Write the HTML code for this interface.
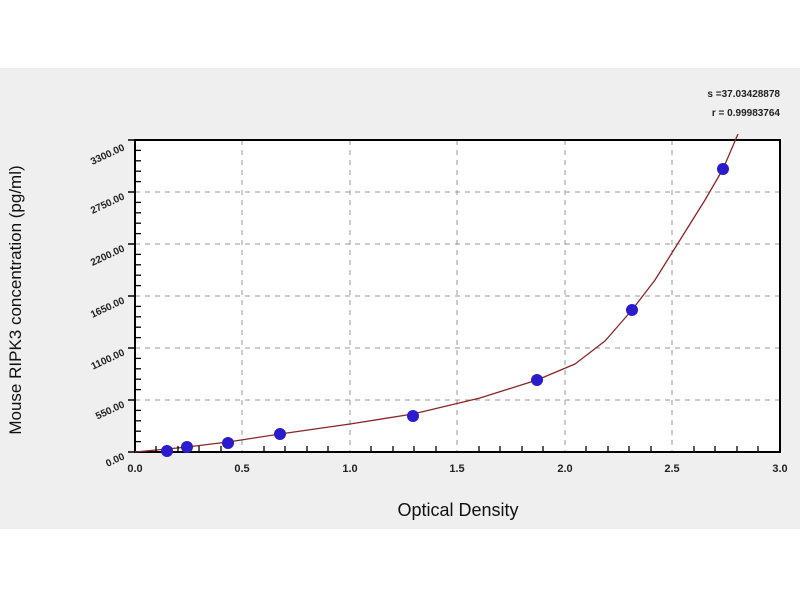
<!DOCTYPE html>
<html><head><style>
body{margin:0;background:#fff;}
svg{display:block;font-family:"Liberation Sans",sans-serif;}
</style></head><body>
<svg width="800" height="600" viewBox="0 0 800 600">
<rect x="0" y="68" width="800" height="461" fill="#efefef"/>
<rect x="135" y="140" width="645" height="312" fill="#fff"/>
<g stroke="#999" stroke-width="1" stroke-dasharray="5,5">
<line x1="242" y1="140" x2="242" y2="452"/><line x1="350" y1="140" x2="350" y2="452"/>
<line x1="457" y1="140" x2="457" y2="452"/><line x1="565" y1="140" x2="565" y2="452"/>
<line x1="672" y1="140" x2="672" y2="452"/>
<line x1="135" y1="192" x2="780" y2="192"/><line x1="135" y1="244" x2="780" y2="244"/>
<line x1="135" y1="296" x2="780" y2="296"/><line x1="135" y1="348" x2="780" y2="348"/>
<line x1="135" y1="400" x2="780" y2="400"/>
</g>
<rect x="135" y="140" width="645" height="312" fill="none" stroke="#000" stroke-width="2"/>
<g stroke="#000" stroke-width="1.5">
<line x1="128" y1="140" x2="135" y2="140"/><line x1="128" y1="192" x2="135" y2="192"/><line x1="128" y1="244" x2="135" y2="244"/><line x1="128" y1="296" x2="135" y2="296"/><line x1="128" y1="348" x2="135" y2="348"/><line x1="128" y1="400" x2="135" y2="400"/><line x1="128" y1="452" x2="135" y2="452"/>
</g>
<g fill="#222" font-size="10" font-weight="bold" text-anchor="end">
<text x="124" y="150" transform="rotate(-25 124 147)">3300.00</text>
<text x="124" y="199" transform="rotate(-25 124 196)">2750.00</text>
<text x="124" y="251" transform="rotate(-25 124 248)">2200.00</text>
<text x="124" y="303" transform="rotate(-25 124 300)">1650.00</text>
<text x="124" y="355" transform="rotate(-25 124 352)">1100.00</text>
<text x="124" y="407" transform="rotate(-25 124 404)">550.00</text>
<text x="124" y="459" transform="rotate(-25 124 456)">0.00</text>
</g>
<g fill="#222" font-size="11" font-weight="bold" text-anchor="middle">
<text x="135" y="472">0.0</text><text x="242" y="472">0.5</text><text x="350" y="472">1.0</text><text x="457" y="472">1.5</text><text x="565" y="472">2.0</text><text x="672" y="472">2.5</text><text x="780" y="472">3.0</text>
</g>
<text x="458" y="516" font-size="18" text-anchor="middle" fill="#111">Optical Density</text>
<text transform="translate(21,300) rotate(-90)" font-size="17" text-anchor="middle" fill="#111">Mouse RIPK3 concentration (pg/ml)</text>
<g font-size="10" font-weight="bold" fill="#222" text-anchor="end">
<text x="780" y="97">s =37.03428878</text><text x="780" y="116">r = 0.99983764</text>
</g>
<polyline points="135,452 167,449 187,447 228,442 280,434 350,424 413,414 480,398 537,380 575,364 605,341 632,310 655,280 680,240 705,200 723,169 738,134" fill="none" stroke="#8b2525" stroke-width="1.3" stroke-linejoin="round"/>
<g fill="#2a1ccc">
<circle cx="167" cy="451" r="6"/><circle cx="187" cy="447" r="6"/><circle cx="228" cy="443" r="6"/><circle cx="280" cy="434" r="6"/><circle cx="413" cy="416" r="6"/><circle cx="537" cy="380" r="6"/><circle cx="632" cy="310" r="6"/><circle cx="723" cy="169" r="6"/>
</g>
<g stroke="#000" stroke-width="1.3">
<line x1="156" y1="452" x2="156" y2="446"/><line x1="178" y1="452" x2="178" y2="446"/><line x1="199" y1="452" x2="199" y2="446"/><line x1="221" y1="452" x2="221" y2="446"/>
<line x1="264" y1="452" x2="264" y2="446"/><line x1="285" y1="452" x2="285" y2="446"/><line x1="307" y1="452" x2="307" y2="446"/><line x1="328" y1="452" x2="328" y2="446"/>
<line x1="371" y1="452" x2="371" y2="446"/><line x1="393" y1="452" x2="393" y2="446"/><line x1="414" y1="452" x2="414" y2="446"/><line x1="436" y1="452" x2="436" y2="446"/>
<line x1="479" y1="452" x2="479" y2="446"/><line x1="500" y1="452" x2="500" y2="446"/><line x1="522" y1="452" x2="522" y2="446"/><line x1="543" y1="452" x2="543" y2="446"/>
<line x1="586" y1="452" x2="586" y2="446"/><line x1="608" y1="452" x2="608" y2="446"/><line x1="629" y1="452" x2="629" y2="446"/><line x1="651" y1="452" x2="651" y2="446"/>
<line x1="694" y1="452" x2="694" y2="446"/><line x1="715" y1="452" x2="715" y2="446"/><line x1="737" y1="452" x2="737" y2="446"/><line x1="758" y1="452" x2="758" y2="446"/>
<line x1="135" y1="441.6" x2="141" y2="441.6"/><line x1="135" y1="431.2" x2="141" y2="431.2"/><line x1="135" y1="420.8" x2="141" y2="420.8"/><line x1="135" y1="410.4" x2="141" y2="410.4"/>
<line x1="135" y1="389.6" x2="141" y2="389.6"/><line x1="135" y1="379.2" x2="141" y2="379.2"/><line x1="135" y1="368.8" x2="141" y2="368.8"/><line x1="135" y1="358.4" x2="141" y2="358.4"/>
<line x1="135" y1="337.6" x2="141" y2="337.6"/><line x1="135" y1="327.2" x2="141" y2="327.2"/><line x1="135" y1="316.8" x2="141" y2="316.8"/><line x1="135" y1="306.4" x2="141" y2="306.4"/>
<line x1="135" y1="285.6" x2="141" y2="285.6"/><line x1="135" y1="275.2" x2="141" y2="275.2"/><line x1="135" y1="264.8" x2="141" y2="264.8"/><line x1="135" y1="254.4" x2="141" y2="254.4"/>
<line x1="135" y1="233.6" x2="141" y2="233.6"/><line x1="135" y1="223.2" x2="141" y2="223.2"/><line x1="135" y1="212.8" x2="141" y2="212.8"/><line x1="135" y1="202.4" x2="141" y2="202.4"/>
<line x1="135" y1="181.6" x2="141" y2="181.6"/><line x1="135" y1="171.2" x2="141" y2="171.2"/><line x1="135" y1="160.8" x2="141" y2="160.8"/><line x1="135" y1="150.4" x2="141" y2="150.4"/>
</g>
</svg>
</body></html>
